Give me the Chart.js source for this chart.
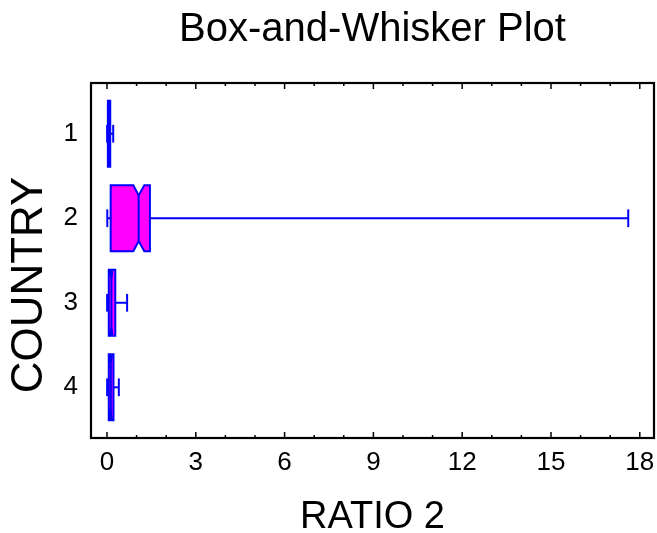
<!DOCTYPE html>
<html>
<head>
<meta charset="utf-8">
<title>Box-and-Whisker Plot</title>
<script src="https://cdn.jsdelivr.net/npm/chart.js@4.4.1/dist/chart.umd.min.js"></script>
<style>
  html, body { margin: 0; padding: 0; background: #fff; }
  #wrap { width: 657px; height: 533px; }
</style>
</head>
<body>
<div id="wrap"><canvas id="chart"></canvas></div>
<script>
// values
const countries = ['1', '2', '3', '4'];
const whiskerLow = [0.005, 0.01, 0.005, 0.005];
const q1 = [0.03, 0.125, 0.06, 0.06];
const median = [0.06, 1.07, 0.15, 0.13];
const q3 = [0.11, 1.45, 0.28, 0.22];
const whiskerHigh = [0.21, 17.61, 0.68, 0.40];
const notchLow = [0.05, 0.89, 0.12, 0.11];
const notchHigh = [0.07, 1.26, 0.18, 0.15];
const xTicks = [0, 3, 6, 9, 12, 15, 18];

const font = 'Liberation Sans, Arial, Helvetica, sans-serif';

// draws the frame, inward ticks and the notched boxes using the chart scales
const boxPlot = {
  id: 'boxPlot',
  afterDraw(chart) {
    const { ctx, chartArea: a, scales: { x, y } } = chart;
    const line = (x1, y1, x2, y2) => {
      ctx.beginPath(); ctx.moveTo(x1, y1); ctx.lineTo(x2, y2); ctx.stroke();
    };
    ctx.save();

    ctx.strokeStyle = '#000';
    ctx.lineWidth = 1.5;
    for (let v = 0; v <= 18; v++) {
      const px = x.getPixelForValue(v);
      const len = v % 3 === 0 ? 6 : 3;
      line(px, a.bottom, px, a.bottom - len);
      line(px, a.top, px, a.top + len);
    }

    countries.forEach((c, i) => {
      const cy = y.getPixelForValue(i + 1);
      const top = y.getPixelForValue(i + 1 - 0.39);
      const bot = y.getPixelForValue(i + 1 + 0.39);
      const inset = Math.abs(y.getPixelForValue(i + 1 + 0.12) - cy);
      const capH = Math.abs(y.getPixelForValue(i + 1 + 0.105) - cy);
      const xl = x.getPixelForValue(whiskerLow[i]);
      const x1 = x.getPixelForValue(q1[i]);
      const nl = x.getPixelForValue(notchLow[i]);
      const xm = x.getPixelForValue(median[i]);
      const nh = x.getPixelForValue(notchHigh[i]);
      const x3 = x.getPixelForValue(q3[i]);
      const xh = x.getPixelForValue(whiskerHigh[i]);

      ctx.strokeStyle = '#0000ff';
      ctx.lineWidth = 2;
      // whiskers
      line(xl, cy, x1, cy);
      line(x3, cy, xh, cy);
      line(xl, cy - capH, xl, cy + capH);
      line(xh, cy - capH, xh, cy + capH);

      // notched box
      ctx.beginPath();
      ctx.moveTo(x1, top);
      ctx.lineTo(nl, top);
      ctx.lineTo(xm, top + inset);
      ctx.lineTo(nh, top);
      ctx.lineTo(x3, top);
      ctx.lineTo(x3, bot);
      ctx.lineTo(nh, bot);
      ctx.lineTo(xm, bot - inset);
      ctx.lineTo(nl, bot);
      ctx.lineTo(x1, bot);
      ctx.closePath();
      ctx.fillStyle = '#ff00ff';
      ctx.fill();
      ctx.stroke();
      line(xm, top + inset, xm, bot - inset);
    });

    ctx.strokeStyle = '#000';
    ctx.lineWidth = 2.2;
    ctx.strokeRect(a.left, a.top, a.right - a.left, a.bottom - a.top);
    ctx.restore();
  }
};

new Chart(document.getElementById('chart'), {
  type: 'scatter',
  data: { datasets: [] },
  options: {
    responsive: true,
    maintainAspectRatio: false,
    animation: false,
    layout: { padding: { right: 3 } },
    plugins: {
      legend: { display: false },
      tooltip: { enabled: false },
      title: {
        display: true,
        text: 'Box-and-Whisker Plot',
        fullSize: false,
        color: '#000',
        font: { family: font, size: 40, weight: 'normal', lineHeight: 1.2 },
        padding: { top: 6, bottom: 29 }
      }
    },
    scales: {
      x: {
        type: 'linear',
        min: -0.54,
        max: 18.48,
        afterBuildTicks: s => { s.ticks = xTicks.map(v => ({ value: v })); },
        afterFit: s => { s.height = 95; s.paddingLeft = 0; s.paddingRight = 0; },
        grid: { display: false, drawTicks: false },
        border: { display: false },
        ticks: {
          color: '#000', padding: 9, maxRotation: 0, autoSkip: false,
          font: { family: font, size: 26 }
        },
        title: {
          display: true, text: 'RATIO 2', color: '#000',
          font: { family: font, size: 38, lineHeight: 0.8 },
          padding: { top: 0, bottom: 0 }
        }
      },
      y: {
        type: 'linear',
        reverse: true,
        min: 0.4,
        max: 4.6,
        afterBuildTicks: s => { s.ticks = countries.map((c, i) => ({ value: i + 1 })); },
        afterFit: s => { s.width = 91; s.paddingTop = 0; s.paddingBottom = 0; },
        grid: { display: false, drawTicks: false },
        border: { display: false },
        ticks: {
          color: '#000', padding: 13, autoSkip: false,
          font: { family: font, size: 26 },
          callback: v => countries[v - 1]
        },
        title: {
          display: true, text: 'COUNTRY    ', color: '#000',
          font: { family: font, size: 44, lineHeight: 1.2 },
          padding: { top: 3, bottom: 0 }
        }
      }
    }
  },
  plugins: [boxPlot]
});
</script>
</body>
</html>
